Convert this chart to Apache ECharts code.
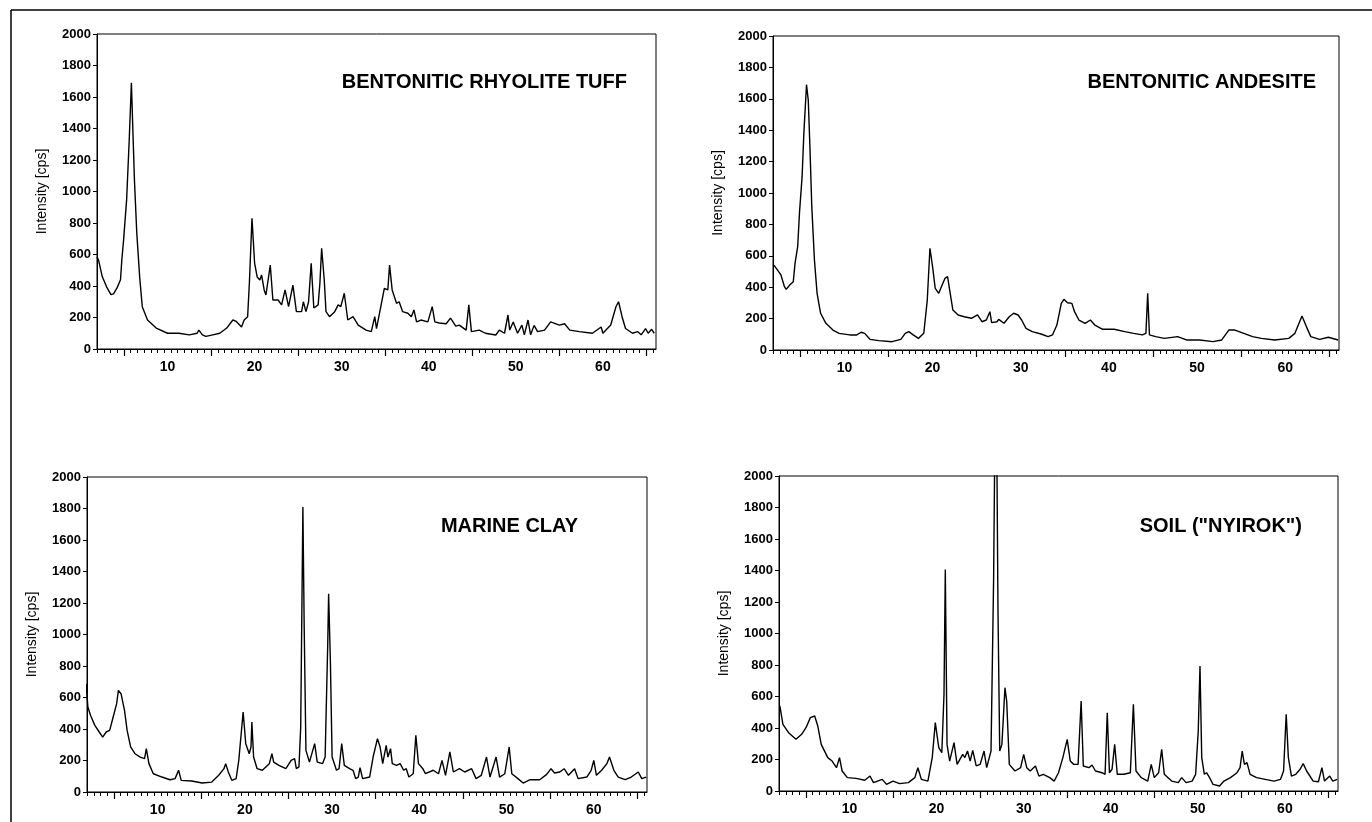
<!DOCTYPE html>
<html>
<head>
<meta charset="utf-8">
<title>XRD patterns</title>
<script src="https://cdn.jsdelivr.net/npm/echarts@6/dist/echarts.min.js"></script>
<style>
  html, body { margin: 0; padding: 0; background: #fff; }
  #chart { width: 1372px; height: 822px; }
</style>
</head>
<body>
<div id="chart"></div>
<script>
// diffraction patterns, [2theta, intensity cps]
const rhyoliteTuff = [
  [1.9,585],[2.1,560],[2.5,460],[3.0,395],[3.5,345],[3.8,350],[4.2,388],[4.6,440],[4.75,565],[4.95,690],
  [5.3,945],[5.6,1325],[5.85,1690],[6.03,1370],[6.2,1073],[6.47,735],[6.8,457],[7.1,269],[7.7,184],[8.7,133],
  [10.0,100],[11.3,100],[12.5,90],[13.4,100],[13.6,120],[14.0,90],[14.4,80],[15.2,90],[16.0,100],[16.8,133],
  [17.5,184],[17.9,175],[18.5,140],[18.8,184],[19.2,205],[19.4,419],[19.7,830],[20.0,546],[20.3,457],[20.6,438],
  [20.8,470],[21.1,375],[21.3,343],[21.8,533],[22.1,311],[22.7,311],[23.1,280],[23.5,375],[23.9,269],[24.4,406],
  [24.8,237],[25.4,237],[25.6,300],[25.9,237],[26.2,300],[26.5,544],[26.8,260],[27.3,280],[27.5,419],[27.7,640],
  [28.0,438],[28.2,237],[28.6,205],[29.2,237],[29.6,280],[29.9,269],[30.3,354],[30.7,184],[31.3,205],[31.9,152],
  [32.8,120],[33.4,110],[33.8,205],[34.0,130],[34.5,270],[34.9,385],[35.3,375],[35.5,533],[35.8,375],[36.3,290],
  [36.6,300],[37.0,237],[37.6,227],[38.0,205],[38.3,248],[38.6,172],[39.1,184],[39.9,172],[40.4,269],[40.7,172],
  [41.2,165],[42.0,160],[42.5,196],[43.1,145],[43.5,152],[44.3,120],[44.6,280],[44.9,110],[45.8,120],[46.5,100],
  [47.7,89],[48.1,120],[48.7,100],[49.1,216],[49.3,120],[49.7,172],[50.2,100],[50.7,152],[50.98,90],[51.4,184],
  [51.7,90],[52.1,150],[52.5,110],[53.3,120],[54.0,172],[55.0,152],[55.6,160],[56.2,120],[57.3,110],[58.8,100],
  [59.8,140],[60.0,100],[60.9,152],[61.5,268],[61.8,300],[62.2,205],[62.6,130],[63.4,100],[64.0,110],[64.4,90],
  [64.9,130],[65.2,100],[65.6,125],[65.9,100]
]

const andesite = [
  [2.0,541],[2.4,510],[2.8,478],[3.2,403],[3.4,386],[3.8,414],[4.2,435],[4.4,552],[4.7,658],[4.9,870],
  [5.2,1104],[5.4,1380],[5.7,1690],[5.9,1592],[6.1,1274],[6.3,913],[6.6,573],[6.9,361],[7.3,234],[7.9,170],
  [8.7,127],[9.4,106],[10.6,96],[11.4,96],[11.9,113],[12.3,106],[12.9,68],[13.9,60],[15.4,53],[16.4,68],
  [16.9,106],[17.3,117],[17.8,96],[18.4,74],[19.0,106],[19.4,318],[19.7,648],[20.0,531],[20.3,393],[20.7,361],
  [21.0,403],[21.4,456],[21.7,467],[22.0,361],[22.3,255],[22.9,223],[23.6,212],[24.4,202],[25.1,223],[25.6,180],
  [26.1,191],[26.5,244],[26.7,174],[27.3,180],[27.5,195],[28.1,170],[28.7,212],[29.2,234],[29.7,223],[30.1,191],
  [30.6,138],[31.3,117],[32.3,102],[33.1,85],[33.6,96],[34.1,159],[34.6,297],[34.9,323],[35.3,301],[35.8,297],
  [36.1,244],[36.6,191],[37.3,170],[37.9,191],[38.4,159],[39.3,132],[40.6,132],[40.8,138],[41.8,117],[42.8,106],
  [43.8,96],[44.2,106],[44.4,361],[44.6,96],[45.3,85],[46.3,74],[47.8,85],[48.8,64],[50.3,64],[51.8,53],
  [52.8,64],[53.6,127],[54.3,127],[55.3,106],[56.3,85],[57.3,74],[58.8,64],[60.4,74],[61.1,106],[61.9,217],
  [62.4,149],[62.9,85],[63.9,68],[64.9,81],[66.0,64]
]

const marineClay = [
  [1.8,688],[2.0,540],[2.3,487],[2.8,423],[3.0,434],[3.3,381],[3.7,349],[4.1,381],[4.5,391],[4.9,476],
  [5.3,561],[5.5,645],[5.8,624],[6.2,518],[6.5,391],[6.9,286],[7.4,243],[8.0,222],[8.5,212],[8.7,275],
  [9.0,180],[9.5,116],[10.5,95],[11.4,78],[12.0,85],[12.4,138],[12.7,74],[13.9,70],[15.1,57],[16.2,63],
  [17.0,106],[17.6,148],[17.8,180],[18.1,127],[18.5,74],[19.0,85],[19.3,201],[19.8,508],[20.1,307],[20.5,243],
  [20.7,286],[20.8,444],[21.0,222],[21.4,148],[22.0,138],[22.4,159],[22.8,180],[23.1,243],[23.3,190],[23.9,169],
  [24.7,148],[25.3,201],[25.7,212],[25.9,148],[26.2,159],[26.4,413],[26.65,1809],[26.8,1047],[27.0,264],[27.4,190],
  [28.0,307],[28.3,190],[28.9,180],[29.2,222],[29.5,942],[29.6,1259],[29.8,836],[30.0,222],[30.5,138],[30.8,148],
  [31.1,307],[31.4,169],[32.0,148],[32.4,138],[32.7,85],[33.0,95],[33.2,154],[33.5,85],[34.3,95],[34.7,222],
  [35.2,339],[35.5,286],[35.8,180],[36.2,296],[36.4,222],[36.7,275],[36.9,180],[37.4,169],[37.8,180],[38.2,138],
  [38.5,148],[38.8,95],[39.3,116],[39.6,360],[39.9,180],[40.4,148],[40.7,116],[41.6,138],[42.2,116],[42.6,201],
  [43.0,106],[43.5,254],[43.9,127],[44.6,148],[45.2,127],[46.0,148],[46.5,85],[47.1,106],[47.7,222],[48.1,95],
  [48.8,222],[49.2,95],[49.8,116],[50.3,286],[50.6,116],[51.3,85],[51.9,57],[52.7,78],[53.8,78],[54.6,112],
  [55.1,148],[55.5,121],[56.1,127],[56.6,148],[57.1,106],[57.8,148],[58.2,85],[59.2,95],[59.7,138],[60.0,201],
  [60.3,106],[60.9,138],[61.5,180],[61.8,222],[62.3,138],[62.8,95],[63.6,78],[64.3,95],[65.1,127],[65.5,85],
  [66.0,95]
]

const soilNyirok = [
  [2.0,540],[2.35,423],[3.0,370],[3.85,328],[4.5,360],[5.0,402],[5.5,466],[6.0,476],[6.35,413],[6.75,296],
  [7.5,212],[8.0,190],[8.5,148],[8.85,212],[9.15,127],[9.75,85],[10.75,80],[11.75,68],[12.35,95],[12.75,53],
  [13.75,74],[14.25,42],[15.0,63],[15.75,47],[16.75,53],[17.5,85],[17.85,148],[18.25,74],[19.0,63],[19.5,212],
  [19.85,434],[20.25,275],[20.6,243],[20.85,614],[21.0,1407],[21.2,296],[21.5,190],[22.0,307],[22.35,169],[23.0,233],
  [23.25,212],[23.55,254],[23.85,190],[24.15,258],[24.55,159],[25.0,169],[25.45,254],[25.75,148],[26.25,254],[26.55,1354],
  [26.75,2600],[26.9,2300],[27.05,1143],[27.25,254],[27.5,296],[27.85,656],[28.05,571],[28.35,169],[29.0,127],[29.65,148],
  [30.0,233],[30.35,148],[30.75,127],[31.35,159],[31.75,95],[32.25,106],[33.0,85],[33.5,63],[34.0,116],[34.5,212],
  [35.0,328],[35.35,190],[35.75,169],[36.25,169],[36.6,571],[36.85,159],[37.5,148],[37.85,165],[38.25,127],[39.0,116],
  [39.35,106],[39.6,497],[39.85,116],[40.15,138],[40.45,296],[40.75,106],[41.5,106],[42.25,116],[42.6,550],[42.9,127],
  [43.5,85],[44.25,63],[44.65,169],[45.0,85],[45.5,116],[45.85,264],[46.15,106],[47.0,63],[47.75,53],[48.15,85],
  [48.65,53],[49.35,63],[49.75,106],[50.05,381],[50.25,794],[50.45,212],[50.75,106],[51.0,116],[51.35,85],[51.75,42],
  [52.5,32],[53.0,63],[53.75,85],[54.5,116],[54.85,148],[55.1,254],[55.35,169],[55.65,180],[56.0,106],[56.75,85],
  [57.75,74],[58.75,63],[59.5,74],[59.85,127],[60.15,487],[60.4,212],[60.75,95],[61.25,106],[61.75,138],[62.1,174],
  [62.5,127],[63.25,63],[63.85,59],[64.25,148],[64.55,63],[65.15,95],[65.5,63],[66.0,74]
]

const sampleNames = ['BENTONITIC RHYOLITE TUFF', 'BENTONITIC ANDESITE', 'MARINE CLAY', 'SOIL ("NYIROK")']
const xLabelValues = [10, 20, 30, 40, 50, 60]
const xMajorTicks = [5, 15, 25, 35, 45, 55, 65]

// minor ticks on the angle axis (13 per 10 degrees, anchored at 5)
const xMinorTicks = []
for (let k = -4; k <= 79; k++) {
  const v = 5 + k * 10 / 13
  if (v > 1.9 && v < 66) xMinorTicks.push(+v.toFixed(3))
}

const patterns = [rhyoliteTuff, andesite, marineClay, soilNyirok]
const grids = [
  { left: 97, top: 34, width: 559, height: 315 },
  { left: 773, top: 36, width: 566, height: 314 },
  { left: 87, top: 477, width: 560, height: 315 },
  { left: 779, top: 476, width: 559, height: 315 },
]
// title placement (right edge, vertical centre)
const titlePos = [
  { right: 745, y: 83 },
  { right: 56, y: 83 },
  { right: 794, y: 527 },
  { right: 70, y: 527 },
]

const font = 'Liberation Sans, Arial, sans-serif'
const chart = echarts.init(document.getElementById('chart'))

const option = {
  animation: false,
  backgroundColor: '#fff',
  grid: grids.map(g => ({ ...g, show: true, borderColor: '#000', borderWidth: 1, backgroundColor: 'transparent' })),
  title: sampleNames.map((name, i) => ({
    text: name,
    right: titlePos[i].right,
    top: titlePos[i].y - 11,
    padding: 0,
    textStyle: { fontFamily: font, fontSize: 20, fontWeight: 'bold', color: '#000' },
  })),
  xAxis: [],
  yAxis: [],
  series: [],
  graphic: [
    { type: 'line', shape: { x1: 11, y1: 10, x2: 1372, y2: 10 }, style: { stroke: '#000', lineWidth: 1.5 } },
    { type: 'line', shape: { x1: 11, y1: 10, x2: 11, y2: 822 }, style: { stroke: '#000', lineWidth: 1.5 } },
  ],
}

patterns.forEach((data, i) => {
  // axis with minor ticks and the series
  option.xAxis.push({
    type: 'value',
    gridIndex: i,
    position: 'bottom',
    min: 1.9,
    max: 66.1,
    axisLine: { show: true, onZero: false, lineStyle: { color: '#000', width: 1 } },
    axisTick: { show: true, customValues: xMinorTicks, length: 4, lineStyle: { color: '#000' } },
    axisLabel: { show: false },
    splitLine: { show: false },
  })
  // overlay axis with long ticks and labels
  option.xAxis.push({
    type: 'value',
    gridIndex: i,
    position: 'bottom',
    offset: 0,
    min: 1.9,
    max: 66.1,
    axisLine: { show: false, onZero: false },
    axisTick: { show: true, customValues: xMajorTicks, length: 7, lineStyle: { color: '#000', width: 1.2 } },
    axisLabel: {
      show: true,
      customValues: xLabelValues,
      margin: 11,
      color: '#000',
      fontFamily: font,
      fontSize: 14,
      fontWeight: 'bold',
    },
    splitLine: { show: false },
  })
  option.yAxis.push({
    type: 'value',
    gridIndex: i,
    min: 0,
    max: 2000,
    interval: 200,
    name: 'Intensity [cps]',
    nameLocation: 'middle',
    nameGap: 48,
    nameTextStyle: { fontFamily: font, fontSize: 14, color: '#000' },
    axisLine: { show: true, lineStyle: { color: '#000', width: 1 } },
    axisTick: { show: true, length: 4, lineStyle: { color: '#000' } },
    axisLabel: {
      color: '#000', fontFamily: font, fontSize: 13, fontWeight: 'bold', margin: 6,
      formatter: v => String(v),
    },
    splitLine: { show: false },
  })
  option.series.push({
    type: 'line',
    name: sampleNames[i],
    xAxisIndex: i * 2,
    yAxisIndex: i,
    data: data,
    showSymbol: false,
    clip: true,
    lineStyle: { color: '#000', width: 1.4 },
  })
})

chart.setOption(option)
</script>
</body>
</html>
